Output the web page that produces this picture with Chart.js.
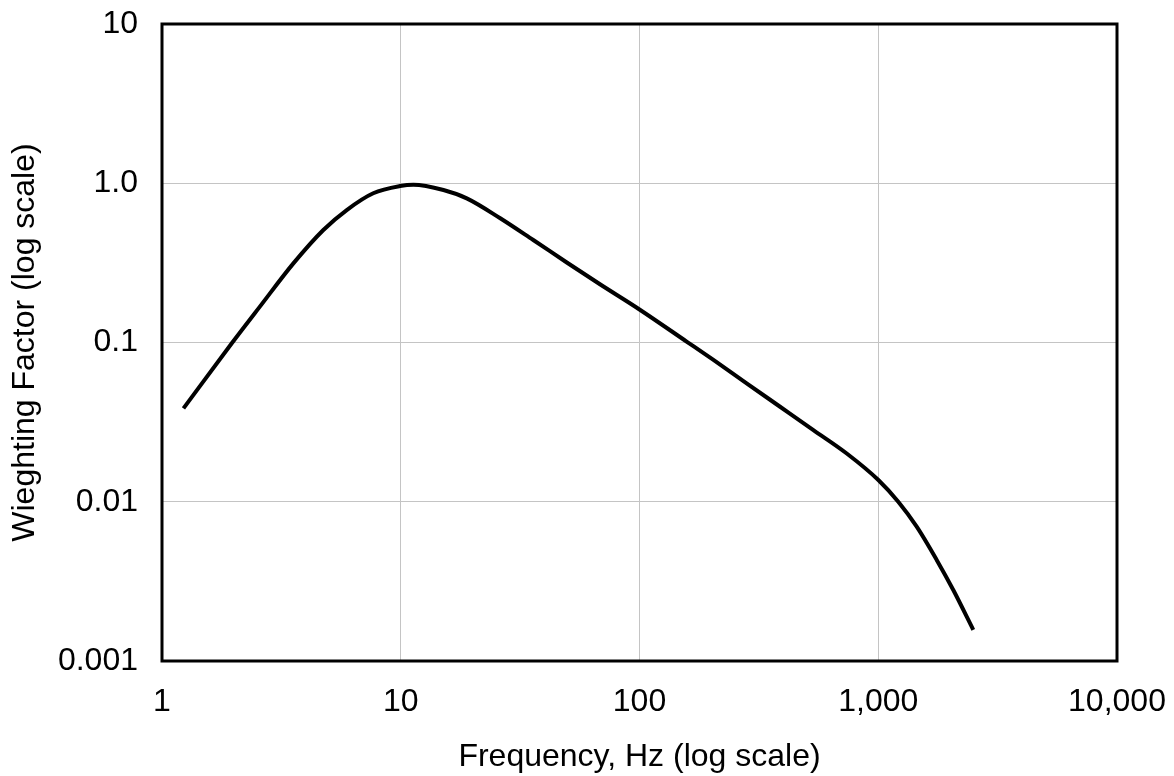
<!DOCTYPE html>
<html lang="en">
<head>
    <meta charset="UTF-8">
    <title>Weighting Factor vs Frequency</title>
    <script src="https://cdn.jsdelivr.net/npm/chart.js"></script>
    <style>
        html, body { margin: 0; padding: 0; background: #fff; }
        #wrap { width: 1174px; height: 776px; }
    </style>
</head>
<body>
    <div id="wrap">
        <canvas id="weightChart" width="1174" height="776"></canvas>
    </div>

    <script>
        // values
        const freqHz = [1.23, 1.96, 2.57, 3.55, 4.74, 5.94, 7.67, 9.93, 11.3, 15.1, 18.9, 26.1, 35.9,
            49.6, 68.3, 98.9, 158, 204, 281, 388, 535, 738, 1001, 1213, 1449, 1757, 2062, 2500];
        const weighting = [0.0386, 0.0989, 0.168, 0.314, 0.509, 0.679, 0.865, 0.961, 0.98, 0.907, 0.804,
            0.603, 0.440, 0.318, 0.232, 0.163, 0.101, 0.0777, 0.0554, 0.0395, 0.0282, 0.0201, 0.0137,
            0.0100, 0.00697, 0.00431, 0.00279, 0.00157];

        const xTickValues = [1, 10, 100, 1000, 10000];
        const xTickLabels = ['1', '10', '100', '1,000', '10,000'];
        const yTickValues = [0.001, 0.01, 0.1, 1, 10];
        const yTickLabels = ['0.001', '0.01', '0.1', '1.0', '10'];

        const font = { family: '"Liberation Sans", Arial, sans-serif', size: 32 };

        // frame around the plot area
        const frame = {
            id: 'frame',
            afterDraw(chart) {
                const a = chart.chartArea;
                const ctx = chart.ctx;
                ctx.save();
                ctx.strokeStyle = '#000';
                ctx.lineWidth = 3;
                ctx.strokeRect(a.left, a.top, a.right - a.left, a.bottom - a.top);
                ctx.restore();
            }
        };

        // no extra room for overhanging labels, layout padding decides
        const noPad = s => {
            s.paddingLeft = 0; s.paddingRight = 0;
            s.paddingTop = 0; s.paddingBottom = 0;
        };

        new Chart(document.getElementById('weightChart'), {
            type: 'scatter',
            data: {
                datasets: [{
                    data: freqHz.map((f, i) => ({ x: f, y: weighting[i] })),
                    showLine: true,
                    borderColor: '#000',
                    borderWidth: 4,
                    pointRadius: 0,
                    cubicInterpolationMode: 'monotone',
                    fill: false
                }]
            },
            options: {
                responsive: false,
                animation: false,
                layout: { padding: { top: 24, right: 57, bottom: 0, left: 0 } },
                plugins: {
                    legend: { display: false },
                    tooltip: { enabled: false }
                },
                scales: {
                    x: {
                        type: 'logarithmic',
                        min: 1,
                        max: 10000,
                        afterBuildTicks: s => { s.ticks = xTickValues.map(v => ({ value: v })); },
                        afterFit: s => { s.height = 115; noPad(s); },
                        ticks: {
                            font: font,
                            color: '#000',
                            padding: 22,
                            maxRotation: 0,
                            autoSkip: false,
                            callback: (v, i) => xTickLabels[i]
                        },
                        grid: { color: '#c4c4c4', lineWidth: 1, drawTicks: false },
                        border: { display: false },
                        title: {
                            display: true,
                            text: 'Frequency, Hz (log scale)',
                            font: font,
                            color: '#000',
                            padding: { top: 0, bottom: 0 }
                        }
                    },
                    y: {
                        type: 'logarithmic',
                        min: 0.001,
                        max: 10,
                        afterBuildTicks: s => { s.ticks = yTickValues.map(v => ({ value: v })); },
                        afterFit: s => { s.width = 162; noPad(s); },
                        ticks: {
                            font: font,
                            color: '#000',
                            padding: 24,
                            autoSkip: false,
                            callback: (v, i) => yTickLabels[i]
                        },
                        grid: { color: '#c4c4c4', lineWidth: 1, drawTicks: false },
                        border: { display: false },
                        title: {
                            display: true,
                            text: 'Wieghting Factor (log scale)',
                            font: font,
                            color: '#000',
                            padding: { top: 6, bottom: 0 }
                        }
                    }
                }
            },
            plugins: [frame]
        });
    </script>
</body>
</html>
